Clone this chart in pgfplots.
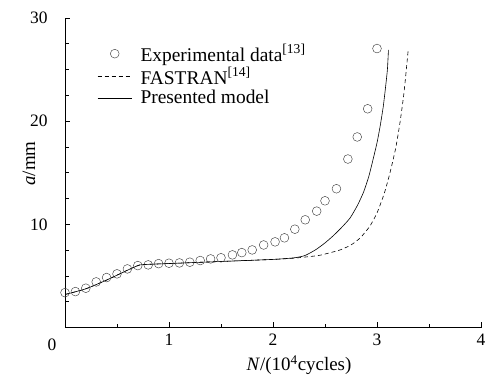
\documentclass[border=0pt]{standalone}
\usepackage{fontspec}
\setmainfont{Liberation Serif}
\usepackage{pgfplots}
\pgfplotsset{compat=1.18}
\pgfplotsset{
  lineleg/.style={legend image code/.code={\draw[##1] (0bp,0bp) -- (34bp,0bp); \path (41bp,0bp);}},
  markleg/.style={legend image code/.code={\draw[mark repeat=2,mark phase=2,##1] plot coordinates {(0bp,0bp) (17bp,0bp) (34bp,0bp)}; \path (0bp,0bp) (41bp,0bp);}},
}
\begin{document}
\begin{tikzpicture}
\begin{axis}[
  at={(0,0)}, anchor=south west,
  scale only axis, width=416bp, height=309.5bp,
  xmin=0, xmax=4, ymin=0, ymax=30,
  axis lines*=left,
  tick align=inside,
  xtick={0,1,2,3,4}, xticklabels={,1,2,3,4},
  minor xtick={0.5,1.5,2.5,3.5},
  ytick={0,10,20,30}, yticklabels={,10,20,30},
  minor ytick={2.5,5,7.5,12.5,15,17.5,22.5,25,27.5},
  major tick length=5bp, minor tick length=3.5bp,
  tick style={black, line width=0.6pt},
  axis line style={line width=0.7pt},
  /pgf/number format/assume math mode=true,
  ticklabel style={font=\fontsize{17.5}{17.5}\selectfont},
  xticklabel style={yshift=-3bp},
  yticklabel style={xshift=-14bp},
  xlabel={\textit{N}/(10\textsuperscript{4}cycles)},
  xlabel style={font=\fontsize{19}{19}\selectfont, at={(axis description cs:0.5625,0)}, anchor=base, yshift=-43bp},
  ylabel={\textit{a}/mm},
  ylabel style={font=\fontsize{19}{19}\selectfont, at={(axis description cs:-0.072,0.53)}, anchor=base},
  legend style={draw=none, fill=none, at={(axis cs:0.31,27.6)}, anchor=north west,
    font=\fontsize{19.5}{19.5}\selectfont, row sep=1.5bp, inner sep=0pt,
    nodes={inner sep=1.5bp}},
  legend cell align=left,
  lineleg,
]
\addplot[only marks, mark=o, mark size=4.4bp, black!75, line width=0.45pt, markleg]
coordinates {
(0,3.38)(0.1,3.48)(0.2,3.81)(0.3,4.42)(0.4,4.84)(0.5,5.2)(0.6,5.68)(0.7,6.0)
(0.8,6.07)(0.9,6.19)(1.0,6.23)(1.1,6.26)(1.2,6.33)(1.3,6.49)(1.4,6.65)(1.5,6.76)
(1.61,7.04)(1.70,7.26)(1.80,7.52)(1.91,8.0)(2.02,8.3)(2.11,8.69)(2.21,9.53)
(2.31,10.44)(2.42,11.28)(2.50,12.28)(2.61,13.45)(2.72,16.33)(2.81,18.47)
(2.91,21.2)(3.0,27.04)};
\addlegendentry{Experimental data\textsuperscript{[13]}}
\addplot[black, line width=0.6pt, dash pattern=on 4bp off 3bp, smooth, tension=0.35] coordinates {
(0,3.2)(0.2,3.75)(0.4,4.6)(0.6,5.55)(0.7,6.0)(0.75,6.1)(1.0,6.2)(1.5,6.4)
(2.0,6.6)(2.2,6.72)(2.3,6.82)(2.45,7.0)(2.64,7.5)(2.75,8.0)(2.84,8.7)(2.93,9.8)
(3.0,11.1)(3.07,13.0)(3.125,15.0)(3.18,17.4)(3.22,19.8)(3.26,22.8)(3.30,26.9)};
\addlegendentry{FASTRAN\textsuperscript{[14]}}
\addplot[black, line width=0.6pt, smooth, tension=0.35] coordinates {
(0,3.2)(0.2,3.75)(0.4,4.6)(0.6,5.55)(0.7,6.0)(0.75,6.1)(1.0,6.2)(1.5,6.4)
(2.0,6.6)(2.2,6.75)(2.3,6.95)(2.37,7.3)(2.42,7.6)(2.5,8.2)(2.58,8.9)(2.66,9.7)
(2.74,10.6)(2.81,11.8)(2.87,13.1)(2.92,14.6)(2.96,16.2)(3.0,17.9)(3.03,19.5)
(3.06,21.4)(3.08,23.1)(3.1,25.0)(3.11,26.9)};
\addlegendentry{Presented model}
\end{axis}
\node[font=\fontsize{17.5}{17.5}\selectfont, anchor=base] at (-13bp,-22.5bp) {0};
\pgfresetboundingbox
\path (-65bp,-49.5bp) rectangle (430bp,327.5bp);
\end{tikzpicture}
\end{document}
